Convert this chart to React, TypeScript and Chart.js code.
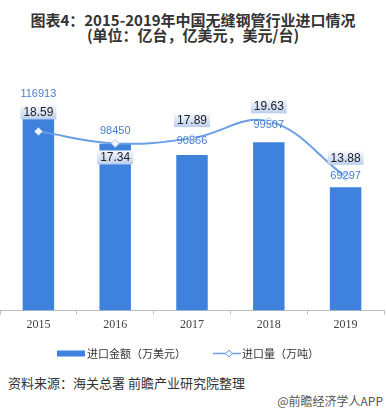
import React, { useEffect, useRef } from "react";
import { Chart, registerables } from "chart.js";

Chart.register(...registerables);

const years = ["2015", "2016", "2017", "2018", "2019"];
const importValue = [116913, 98450, 90866, 99507, 69297]; // 进口金额（万美元）
const importVolume = [18.59, 17.34, 17.89, 19.63, 13.88]; // 进口量（万吨）

// label placement (styling only)
const barLabelLift = [22, 13, 14, 17, 11];
const lineLabelShift = [-19, 14, -18, -15, -19];

const BAR_COLOR = "#3e82de";
const LINE_COLOR = "#6a9fe6";
const CJK = "'Noto Sans CJK SC', sans-serif";

const labelPlugin = {
  id: "valueLabels",
  afterDatasetsDraw(chart: any) {
    const ctx = chart.ctx as CanvasRenderingContext2D;
    const lineMeta = chart.getDatasetMeta(0);
    const barMeta = chart.getDatasetMeta(1);
    ctx.save();
    ctx.textAlign = "center";
    ctx.textBaseline = "middle";
    ctx.font = "11px 'Liberation Sans', sans-serif";
    ctx.fillStyle = "#4a7dcf";
    barMeta.data.forEach((el: any, i: number) => {
      ctx.fillText(String(importValue[i]), el.x, el.y - barLabelLift[i]);
    });
    lineMeta.data.forEach((el: any, i: number) => {
      const cy = el.y + lineLabelShift[i];
      const w = 36;
      const h = 14;
      const g = ctx.createLinearGradient(0, cy - h / 2, 0, cy + h / 2);
      g.addColorStop(0, "#f6f9fd");
      g.addColorStop(1, "#bccfee");
      ctx.fillStyle = g;
      ctx.fillRect(el.x - w / 2, cy - h / 2, w, h);
      ctx.fillStyle = "#222";
      ctx.font = "12px 'Liberation Sans', sans-serif";
      ctx.fillText(importVolume[i].toFixed(2), el.x, cy + 0.5);
    });

    // legend
    const ly = 353.5;
    ctx.fillStyle = BAR_COLOR;
    ctx.fillRect(62, ly - 3, 28, 6);
    ctx.fillStyle = "#333";
    ctx.textAlign = "left";
    ctx.font = "11px " + CJK;
    ctx.fillText("进口金额（万美元）", 92, ly);

    ctx.strokeStyle = LINE_COLOR;
    ctx.lineWidth = 1.5;
    ctx.beginPath();
    ctx.moveTo(218, ly);
    ctx.lineTo(246, ly);
    ctx.stroke();
    ctx.fillStyle = "#eef4fc";
    ctx.strokeStyle = LINE_COLOR;
    ctx.lineWidth = 1;
    ctx.beginPath();
    ctx.moveTo(234, ly - 3.5);
    ctx.lineTo(237.5, ly);
    ctx.lineTo(234, ly + 3.5);
    ctx.lineTo(230.5, ly);
    ctx.closePath();
    ctx.fill();
    ctx.stroke();
    ctx.fillStyle = "#333";
    ctx.fillText("进口量（万吨）", 247, ly);
    ctx.restore();
  },
};

function ChartCanvas() {
  const ref = useRef<HTMLCanvasElement | null>(null);
  useEffect(() => {
    if (!ref.current) return;
    const chart = new Chart(ref.current, {
      type: "bar",
      data: {
        labels: years,
        datasets: [
          {
            type: "line",
            label: "进口量（万吨）",
            data: importVolume,
            yAxisID: "y1",
            borderColor: LINE_COLOR,
            borderWidth: 2,
            tension: 0.4,
            pointStyle: "rectRot",
            pointRadius: 4,
            pointBackgroundColor: "#f2f7fd",
            pointBorderColor: "#a5c4ee",
            pointBorderWidth: 1,
            order: 0,
          } as any,
          {
            type: "bar",
            label: "进口金额（万美元）",
            data: importValue,
            yAxisID: "y",
            backgroundColor: BAR_COLOR,
            base: -13170,
            barPercentage: 0.41,
            categoryPercentage: 1,
            order: 1,
          } as any,
        ],
      },
      options: {
        animation: false,
        responsive: true,
        maintainAspectRatio: false,
        events: [],
        layout: { padding: { top: 80, bottom: 35, left: 0, right: 0 } },
        plugins: { legend: { display: false }, tooltip: { enabled: false }, title: { display: false } },
        scales: {
          x: {
            offset: true,
            grid: {
              offset: true,
              drawOnChartArea: false,
              drawTicks: true,
              tickLength: 4,
              color: "#bfbfbf",
            },
            border: { color: "#bfbfbf" },
            ticks: {
              padding: 3,
              color: "#404040",
              font: { family: "'Liberation Serif', serif", size: 12 },
            },
          },
          y: {
            display: false,
            min: -13170,
            max: 141060,
          },
          y1: {
            display: false,
            min: 0,
            max: 23.92,
          },
        },
      },
      plugins: [labelPlugin],
    });
    return () => chart.destroy();
  }, []);
  return <canvas ref={ref} />;
}

export default function App() {
  return (
    <div
      style={{
        position: "fixed",
        left: 0,
        top: 0,
        width: 386,
        height: 416,
        overflow: "hidden",
        background: "#fff",
      }}
    >
      <div
        style={{
          position: "absolute",
          top: 12,
          left: 0,
          width: 386,
          textAlign: "center",
          fontFamily: CJK,
          fontWeight: 700,
          fontSize: 15,
          lineHeight: "15px",
          color: "#333",
          whiteSpace: "nowrap",
        }}
      >
        图表4：2015-2019年中国无缝钢管行业进口情况
        <br />
        (单位：亿台，亿美元，美元/台)
      </div>
      <div style={{ position: "absolute", left: -5, top: 0, width: 394, height: 370 }}>
        <ChartCanvas />
      </div>
      <div
        style={{
          position: "absolute",
          left: 8,
          top: 374,
          fontFamily: CJK,
          fontSize: 13,
          lineHeight: "18px",
          color: "#333",
          whiteSpace: "nowrap",
        }}
      >
        资料来源：海关总署 前瞻产业研究院整理
      </div>
      <div
        style={{
          position: "absolute",
          right: 3,
          top: 393,
          fontFamily: CJK,
          fontSize: 12,
          lineHeight: "16px",
          color: "#555",
          whiteSpace: "nowrap",
        }}
      >
        @前瞻经济学人APP
      </div>
    </div>
  );
}
